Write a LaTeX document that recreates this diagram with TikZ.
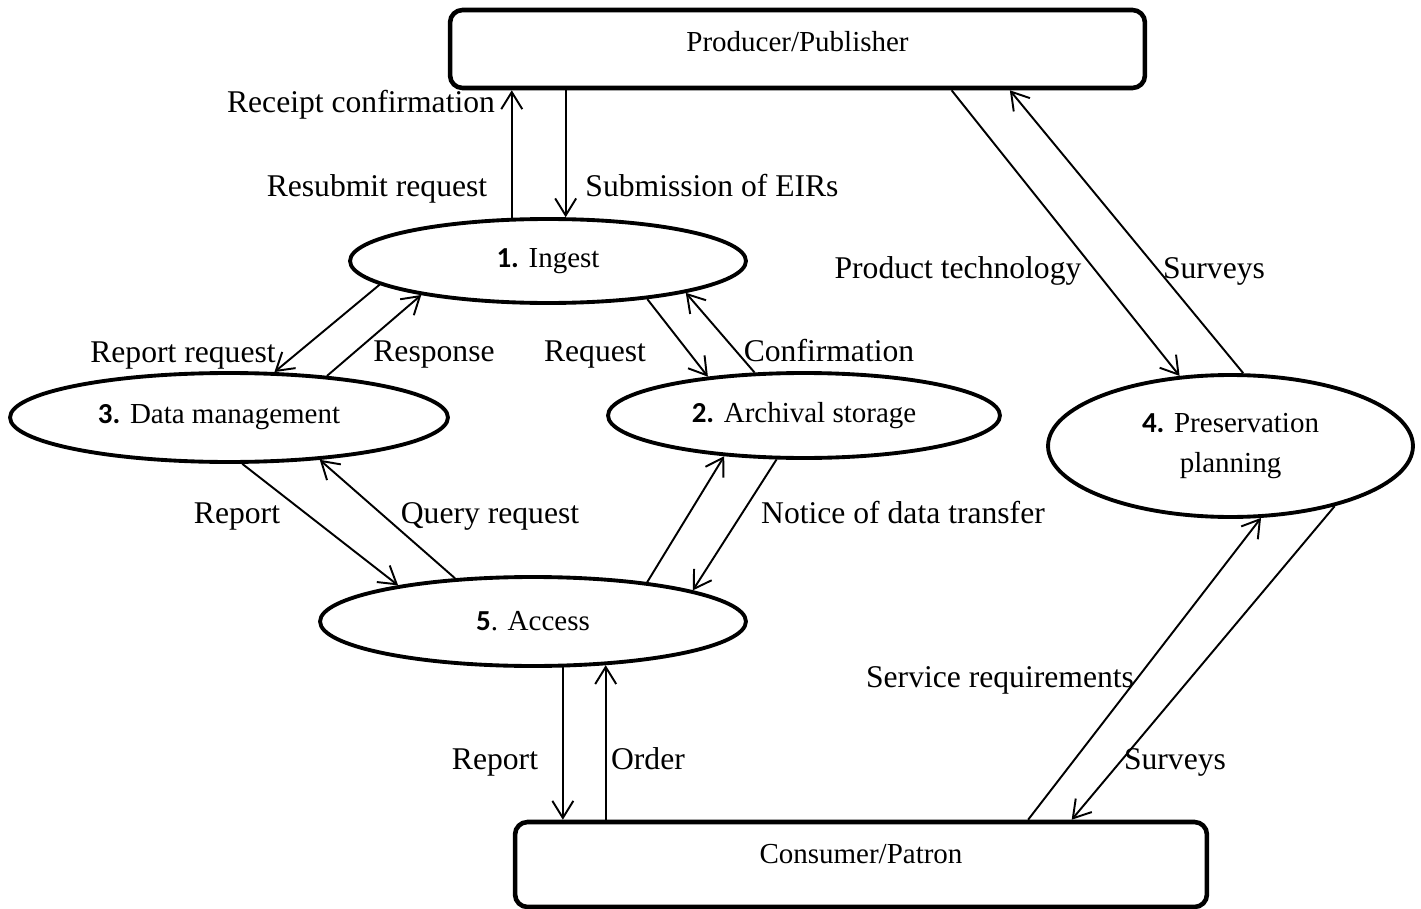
\documentclass[tikz,border=0pt]{standalone}
\usepackage{fontspec}
\setmainfont{Liberation Serif}
\newfontfamily\numfont{Carlito}
\usetikzlibrary{arrows.meta,shapes.geometric}
\newcommand{\procnum}[1]{{\numfont\bfseries #1}}

\begin{document}
\begin{tikzpicture}[x=0.02cm,y=-0.02cm,
    proc/.style={ellipse,draw,line width=2.2pt,inner sep=0pt,align=center,
      font=\fontsize{16.5}{22.5}\selectfont},
    ent/.style={rectangle,draw,line width=2.6pt,rounded corners=0.25cm,
      text height=12pt,font=\fontsize{16.5}{20}\selectfont},
    flow/.style={-{Straight Barb[length=3.4mm,width=4.2mm]},line width=1.1pt},
    lbl/.style={anchor=base,inner sep=0pt,font=\fontsize{18}{22}\selectfont}]
  \useasboundingbox (0,0) rectangle (1421,909);

  % Entidades externas
  \node[ent,text depth=9.5pt,minimum width=13.9cm,minimum height=1.56cm] (prod) at (797.5,49) {Producer/Publisher};
  \node[ent,text depth=13pt,minimum width=13.84cm,minimum height=1.7cm] (cons) at (861,864.5) {Consumer/Patron};

  % Procesos
  \node[proc,minimum width=7.92cm,minimum height=1.68cm] (ingest) at (548,261) {\procnum{1.} Ingest};
  \node[proc,minimum width=8.76cm,minimum height=1.78cm] (dm) at (229,417.5) {\procnum{3.} Data management\hspace*{0.4cm}};
  \node[proc,minimum width=7.84cm,minimum height=1.7cm] (arch) at (804,415.5) {\procnum{2.} Archival storage};
  \node[proc,minimum width=8.52cm,minimum height=1.78cm] (access) at (533,621.5) {\procnum{5}. Access};
  \node[proc,minimum width=7.3cm,minimum height=2.84cm] (pres) at (1230.5,446) {\procnum{4.} Preservation\\planning};

  % Flujos
  \draw[flow] (ingest.130) -- (ingest.130 |- prod.south);
  \draw[flow] (ingest.68 |- prod.south) -- (ingest.68);
  \draw[flow] (ingest.188) -- (dm.45);
  \draw[flow] (dm.23) -- (ingest.195);
  \draw[flow] (ingest.339) -- (arch.158);
  \draw[flow] (arch.139) -- (ingest.347);
  \draw[flow] (dm.-74) -- (access.165);
  \draw[flow] (access.151) -- (dm.-25);
  \draw[flow] (access.19) -- (arch.207);
  \draw[flow] (arch.238) -- (access.11);
  \draw[flow] (access.-57) -- (access.-57 |- cons.north);
  \draw[flow] (access.-31 |- cons.north) -- (access.-31);
  \draw[flow] (prod.-15) -- (pres.126);
  \draw[flow] (pres.80) -- (prod.-11);
  \draw[flow] (cons.15) -- (pres.-67);
  \draw[flow] (pres.-30) -- (cons.12);

  % Etiquetas de los flujos
  \node[lbl] (receipt) at (361,113) {Receipt confirmation};
  \node[lbl] (resubmit) at (377,196) {Resubmit request};
  \node[lbl] (submission) at (712,196) {Submission of EIRs};
  \node[lbl] (prodtech) at (958,278) {Product technology};
  \node[lbl] (surveysup) at (1214,278) {Surveys};
  \node[lbl] (reportreq) at (183,362) {Report request};
  \node[lbl] (response) at (434,361) {Response};
  \node[lbl] (request) at (595,361) {Request};
  \node[lbl] (confirm) at (829,361) {Confirmation};
  \node[lbl] (reportdm) at (237,523) {Report};
  \node[lbl] (query) at (490,523) {Query request};
  \node[lbl] (notice) at (903,523) {Notice of data transfer};
  \node[lbl] (service) at (1000,687) {Service requirements};
  \node[lbl] (reportacc) at (495,769) {Report};
  \node[lbl] (order) at (648,769) {Order};
  \node[lbl] (surveyslow) at (1175,769) {Surveys};
\end{tikzpicture}
\end{document}
